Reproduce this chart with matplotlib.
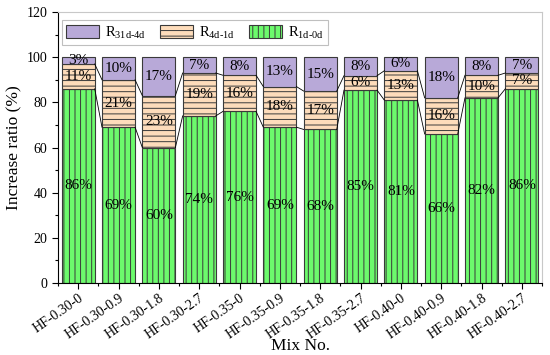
import matplotlib
matplotlib.use("Agg")
import matplotlib.pyplot as plt
from matplotlib.ticker import MultipleLocator, FixedLocator
import numpy as np

mixes = ["HF-0.30-0", "HF-0.30-0.9", "HF-0.30-1.8", "HF-0.30-2.7",
         "HF-0.35-0", "HF-0.35-0.9", "HF-0.35-1.8", "HF-0.35-2.7",
         "HF-0.40-0", "HF-0.40-0.9", "HF-0.40-1.8", "HF-0.40-2.7"]
r_1d_0d = [86, 69, 60, 74, 76, 69, 68, 85.4, 81, 66, 82, 86]
r_4d_1d = [11, 21, 23, 19, 16, 18, 17, 6.4, 13, 16, 10, 7]
r_31d_4d = [3, 10, 17, 7, 8, 13, 15, 8.2, 6, 18, 8, 7]

plt.rcParams["font.family"] = ["Liberation Serif", "DejaVu Serif"]
plt.rcParams["mathtext.fontset"] = "custom"
plt.rcParams["mathtext.rm"] = "Liberation Serif"
plt.rcParams["mathtext.it"] = "Liberation Serif:italic"
plt.rcParams["hatch.linewidth"] = 0.7
plt.rcParams["hatch.color"] = "#3c3c3c"

fig = plt.figure(figsize=(5.5, 3.55), dpi=100)
ax = fig.add_axes([0.1055, 0.203, 0.88, 0.763])

x = np.arange(len(mixes))
w = 0.82
g = np.array(r_1d_0d)
o = np.array(r_4d_1d)
p = np.array(r_31d_4d)
ec = "#3a3a3a"

b_g = ax.bar(x, g, w, color="#6cfa6c", edgecolor=ec, lw=0.8, hatch="|||",
             label="R$_{\\text{1d-0d}}$", zorder=2)
b_o = ax.bar(x, o, w, bottom=g, color="#fddcbb", edgecolor=ec, lw=0.8,
             hatch="---", label="R$_{\\text{4d-1d}}$", zorder=2)
b_p = ax.bar(x, p, w, bottom=g + o, color="#b8a9d8", edgecolor=ec, lw=0.8,
             label="R$_{\\text{31d-4d}}$", zorder=2)

# lines linking the segment tops of neighbouring bars
for i in range(len(mixes) - 1):
    for top in (g, g + o):
        ax.plot([x[i] + w / 2, x[i + 1] - w / 2], [top[i], top[i + 1]],
                color="black", lw=0.6, zorder=3)

fs = 11
for i in range(len(mixes)):
    ax.text(x[i], g[i] / 2, f"{round(g[i])}%", ha="center", va="center", fontsize=fs, zorder=4)
    ax.text(x[i], g[i] + o[i] / 2, f"{round(o[i])}%", ha="center", va="center", fontsize=fs, zorder=4)
    ax.text(x[i], g[i] + o[i] + p[i] / 2, f"{round(p[i])}%", ha="center", va="center", fontsize=fs, zorder=4)

ax.set_xlim(-0.5, len(mixes) - 0.5)
ax.set_ylim(0, 120)
ax.set_xticks(x)
ax.set_xticklabels(mixes, rotation=35, ha="right", rotation_mode="anchor", fontsize=10)
ax.xaxis.set_minor_locator(FixedLocator(np.arange(-0.5, len(mixes), 1.0)))
ax.yaxis.set_major_locator(MultipleLocator(20))
ax.yaxis.set_minor_locator(MultipleLocator(10))
ax.tick_params(axis="both", which="major", direction="out", length=4, width=0.8, labelsize=10)
ax.tick_params(axis="both", which="minor", direction="out", length=2.5, width=0.8)
ax.tick_params(axis="x", pad=2)

for s in ("top", "right"):
    ax.spines[s].set_color("#c8c8c8")
    ax.spines[s].set_linewidth(0.8)
for s in ("left", "bottom"):
    ax.spines[s].set_color("black")
    ax.spines[s].set_linewidth(0.8)

ax.set_ylabel("Increase ratio (%)", fontsize=12.5, labelpad=3)
ax.set_xlabel("Mix No.", fontsize=12.5, labelpad=-2)

leg = ax.legend(handles=[b_p, b_o, b_g], loc="upper left", bbox_to_anchor=(0.008, 0.97),
                ncol=3, fontsize=10.5, frameon=True, fancybox=False,
                edgecolor="#b0b0b0", handlelength=2.25, handleheight=1.0,
                columnspacing=1.0, handletextpad=0.4, borderpad=0.3,
                borderaxespad=0.0)
leg.get_frame().set_linewidth(0.8)

fig.savefig("out.png", dpi=100)
